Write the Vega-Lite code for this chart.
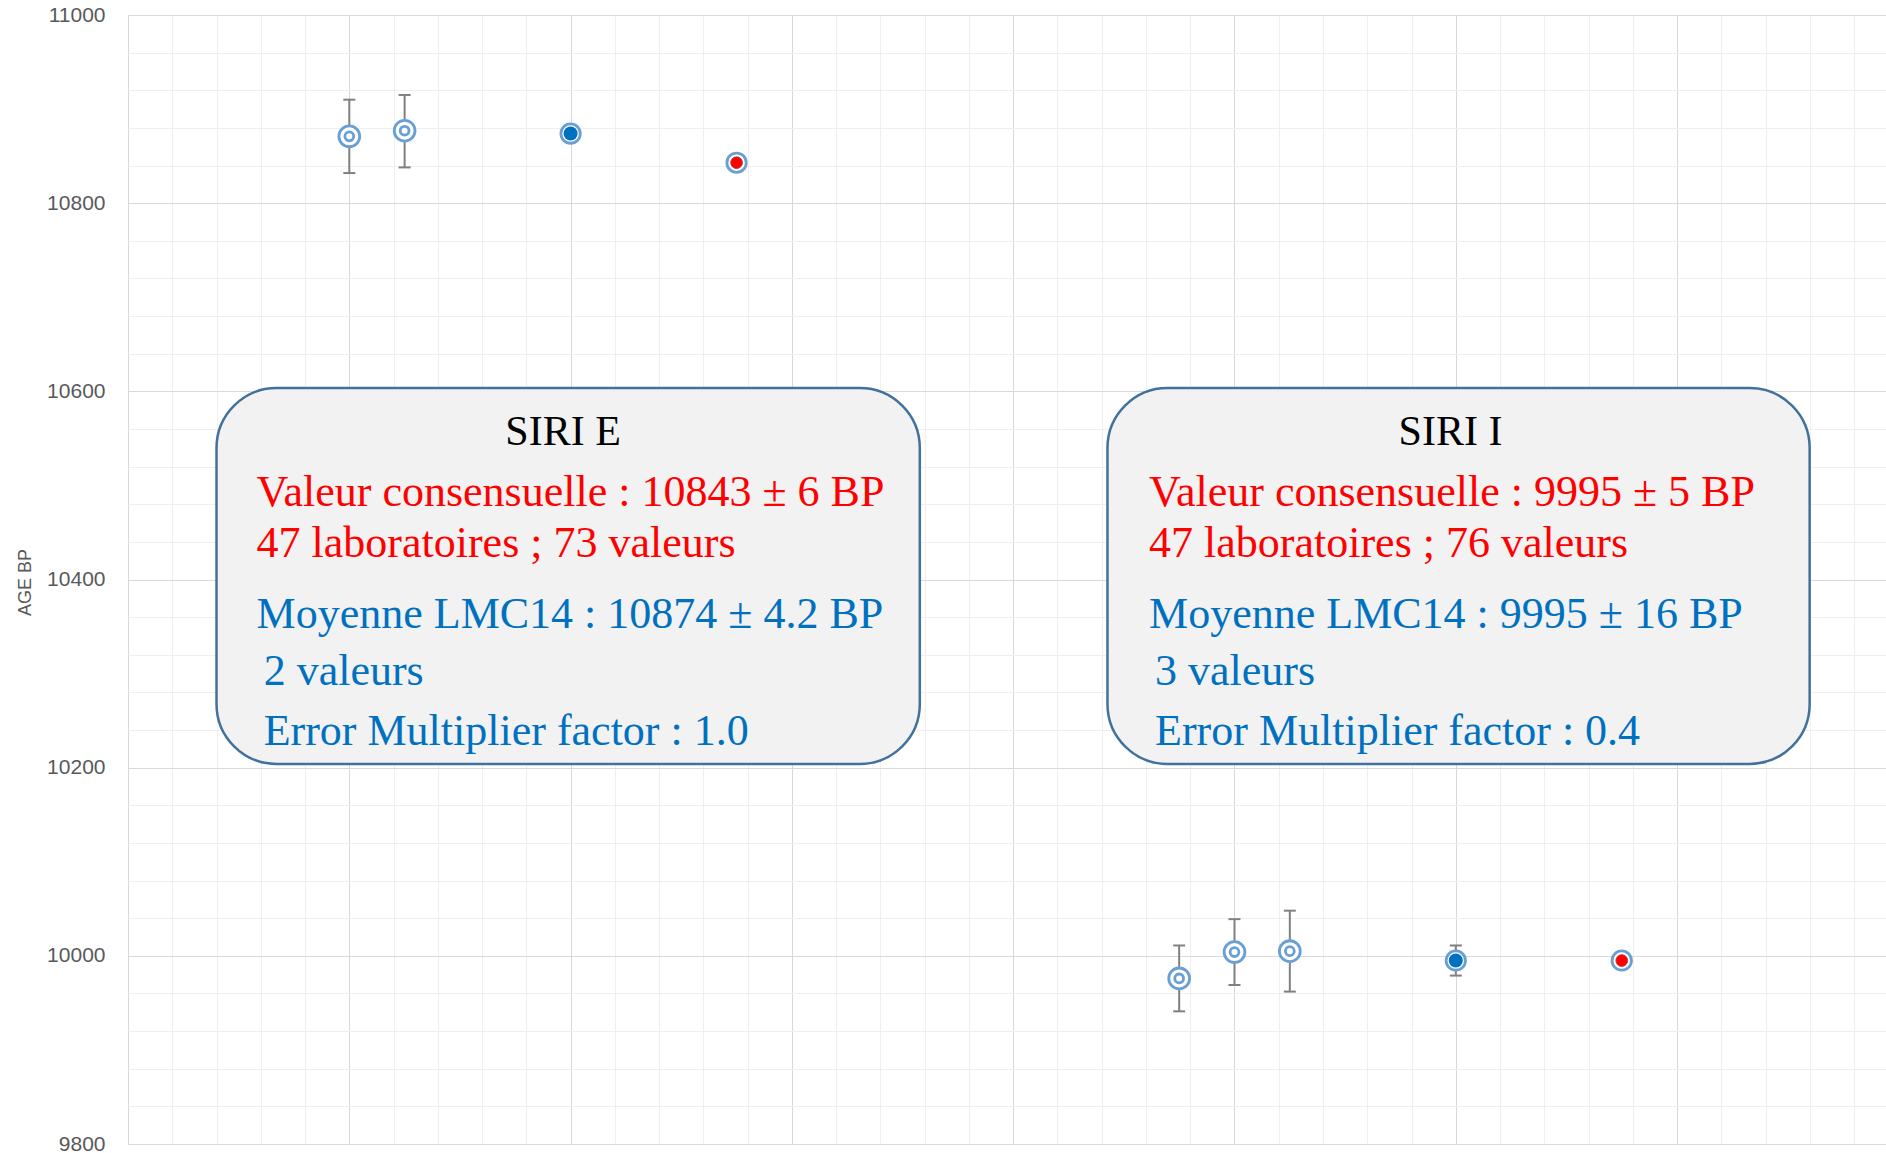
{
  "$schema": "https://vega.github.io/schema/vega-lite/v6.json",
  "width": 1758,
  "height": 1129,
  "autosize": {"type": "none"},
  "padding": {"left": 128, "top": 15, "right": 0, "bottom": 9},
  "background": "white",
  "config": {"view": {"stroke": null}},
  "datasets": {
    "pts": [
      {"grp": "SIRI E", "kind": "lab", "x": 1, "age": 10871, "lo": 10832, "hi": 10910},
      {"grp": "SIRI E", "kind": "lab", "x": 1.25, "age": 10877, "lo": 10838, "hi": 10915},
      {"grp": "SIRI E", "kind": "lmc", "x": 2, "age": 10874, "lo": 10869.8, "hi": 10878.2},
      {"grp": "SIRI E", "kind": "cons", "x": 2.75, "age": 10843, "lo": 10837, "hi": 10849},
      {"grp": "SIRI I", "kind": "lab", "x": 4.75, "age": 9976, "lo": 9941, "hi": 10011},
      {"grp": "SIRI I", "kind": "lab", "x": 5, "age": 10004, "lo": 9969, "hi": 10039},
      {"grp": "SIRI I", "kind": "lab", "x": 5.25, "age": 10005, "lo": 9962, "hi": 10048},
      {"grp": "SIRI I", "kind": "lmc", "x": 6, "age": 9995, "lo": 9979, "hi": 10011},
      {"grp": "SIRI I", "kind": "cons", "x": 6.75, "age": 9995, "lo": 9990, "hi": 10000}
    ],
    "boxes": [
      {"grp": "SIRI E", "x": 0.4, "x2": 3.578, "age": 10603.5, "y2": 10204},
      {"grp": "SIRI I", "x": 4.426, "x2": 7.599, "age": 10603.5, "y2": 10204}
    ],
    "texts": [
      {"grp": "SIRI E", "role": "title", "x": 1.966, "age": 10543, "txt": "SIRI E"},
      {"grp": "SIRI E", "role": "cons", "x": 0.581, "age": 10477.6, "txt": "Valeur consensuelle : 10843 ± 6 BP"},
      {"grp": "SIRI E", "role": "cons", "x": 0.581, "age": 10424.4, "txt": "47 laboratoires ; 73 valeurs"},
      {"grp": "SIRI E", "role": "lmc", "x": 0.581, "age": 10348.3, "txt": "Moyenne LMC14 : 10874 ± 4.2 BP"},
      {"grp": "SIRI E", "role": "lmc", "x": 0.613, "age": 10288, "txt": "2 valeurs"},
      {"grp": "SIRI E", "role": "lmc", "x": 0.613, "age": 10224, "txt": "Error Multiplier factor : 1.0"},
      {"grp": "SIRI I", "role": "title", "x": 5.976, "age": 10543, "txt": "SIRI I"},
      {"grp": "SIRI I", "role": "cons", "x": 4.614, "age": 10477.6, "txt": "Valeur consensuelle : 9995 ± 5 BP"},
      {"grp": "SIRI I", "role": "cons", "x": 4.614, "age": 10424.4, "txt": "47 laboratoires ; 76 valeurs"},
      {"grp": "SIRI I", "role": "lmc", "x": 4.614, "age": 10348.3, "txt": "Moyenne LMC14 : 9995 ± 16 BP"},
      {"grp": "SIRI I", "role": "lmc", "x": 4.641, "age": 10288, "txt": "3 valeurs"},
      {"grp": "SIRI I", "role": "lmc", "x": 4.641, "age": 10224, "txt": "Error Multiplier factor : 0.4"}
    ]
  },
  "encoding": {
    "x": {
      "field": "x", "type": "quantitative",
      "scale": {"domain": [0, 7.944], "nice": false, "zero": false},
      "axis": {
        "values": [0, 0.2, 0.4, 0.6, 0.8, 1, 1.2, 1.4, 1.6, 1.8, 2, 2.2, 2.4, 2.6, 2.8, 3, 3.2, 3.4, 3.6, 3.8, 4, 4.2, 4.4, 4.6, 4.8, 5, 5.2, 5.4, 5.6, 5.8, 6, 6.2, 6.4, 6.6, 6.8, 7, 7.2, 7.4, 7.6, 7.8],
        "labels": false, "ticks": false, "domain": false, "title": null,
        "grid": true, "gridWidth": 1,
        "gridColor": {"condition": {"test": "abs(datum.value - round(datum.value)) < 0.01", "value": "#d9d9d9"}, "value": "#efefef"}
      }
    },
    "y": {
      "field": "age", "type": "quantitative",
      "scale": {"domain": [9800, 11000], "nice": false, "zero": false},
      "axis": {
        "values": [9800, 9840, 9880, 9920, 9960, 10000, 10040, 10080, 10120, 10160, 10200, 10240, 10280, 10320, 10360, 10400, 10440, 10480, 10520, 10560, 10600, 10640, 10680, 10720, 10760, 10800, 10840, 10880, 10920, 10960, 11000],
        "format": "d",
        "labelExpr": "datum.value % 200 === 0 ? datum.label : ''",
        "labelOverlap": false,
        "labelFont": "Liberation Sans", "labelFontSize": 21, "labelColor": "#595959", "labelPadding": 23,
        "ticks": false, "domain": false,
        "grid": true, "gridWidth": 1,
        "gridColor": {"condition": {"test": "datum.value % 200 === 0", "value": "#d9d9d9"}, "value": "#efefef"},
        "title": "AGE BP", "titleFont": "Liberation Sans", "titleFontSize": 18, "titleFontWeight": "normal",
        "titleColor": "#595959", "titleAngle": -90, "titleAlign": "center", "titleBaseline": "alphabetic",
        "titleX": -98, "titleY": 567
      }
    }
  },
  "layer": [
    {
      "data": {"name": "boxes"},
      "mark": {"type": "rect", "cornerRadius": 60, "fill": "#f2f2f2", "stroke": "#41719c", "strokeWidth": 2.5},
      "encoding": {
        "x2": {"field": "x2"},
        "y2": {"field": "y2"}
      }
    },
    {
      "data": {"name": "texts"},
      "transform": [{"filter": "datum.role === 'title'"}],
      "mark": {"type": "text", "font": "Liberation Serif", "fontSize": 42, "align": "center", "baseline": "alphabetic", "color": "#000000"},
      "encoding": {
        "text": {"field": "txt"}
      }
    },
    {
      "data": {"name": "texts"},
      "transform": [{"filter": "datum.role !== 'title'"}],
      "mark": {"type": "text", "font": "Liberation Serif", "fontSize": 44, "align": "left", "baseline": "alphabetic"},
      "encoding": {
        "text": {"field": "txt"},
        "color": {"field": "role", "type": "nominal", "scale": {"domain": ["cons", "lmc"], "range": ["#ff0000", "#0070c0"]}, "legend": null}
      }
    },
    {
      "data": {"name": "pts"},
      "transform": [{"filter": "datum.kind !== 'cons'"}],
      "mark": {"type": "rule", "color": "#808080", "strokeWidth": 2},
      "encoding": {
        "y": {
          "field": "lo", "type": "quantitative",
          "scale": {"domain": [9800, 11000], "nice": false, "zero": false},
          "axis": {
            "values": [9800, 9840, 9880, 9920, 9960, 10000, 10040, 10080, 10120, 10160, 10200, 10240, 10280, 10320, 10360, 10400, 10440, 10480, 10520, 10560, 10600, 10640, 10680, 10720, 10760, 10800, 10840, 10880, 10920, 10960, 11000],
            "format": "d",
            "labelExpr": "datum.value % 200 === 0 ? datum.label : ''",
            "labelOverlap": false,
            "labelFont": "Liberation Sans", "labelFontSize": 21, "labelColor": "#595959", "labelPadding": 23,
            "ticks": false, "domain": false,
            "grid": true, "gridWidth": 1,
            "gridColor": {"condition": {"test": "datum.value % 200 === 0", "value": "#d9d9d9"}, "value": "#efefef"},
            "title": "AGE BP", "titleFont": "Liberation Sans", "titleFontSize": 18, "titleFontWeight": "normal",
            "titleColor": "#595959", "titleAngle": -90, "titleAlign": "center", "titleBaseline": "alphabetic",
            "titleX": -98, "titleY": 567
          }
        },
        "y2": {"field": "hi"}
      }
    },
    {
      "data": {"name": "pts"},
      "transform": [{"filter": "datum.kind !== 'cons'"}],
      "mark": {"type": "tick", "orient": "horizontal", "size": 12, "thickness": 2, "color": "#808080", "opacity": 1},
      "encoding": {
        "y": {
          "field": "lo", "type": "quantitative",
          "scale": {"domain": [9800, 11000], "nice": false, "zero": false},
          "axis": {
            "values": [9800, 9840, 9880, 9920, 9960, 10000, 10040, 10080, 10120, 10160, 10200, 10240, 10280, 10320, 10360, 10400, 10440, 10480, 10520, 10560, 10600, 10640, 10680, 10720, 10760, 10800, 10840, 10880, 10920, 10960, 11000],
            "format": "d",
            "labelExpr": "datum.value % 200 === 0 ? datum.label : ''",
            "labelOverlap": false,
            "labelFont": "Liberation Sans", "labelFontSize": 21, "labelColor": "#595959", "labelPadding": 23,
            "ticks": false, "domain": false,
            "grid": true, "gridWidth": 1,
            "gridColor": {"condition": {"test": "datum.value % 200 === 0", "value": "#d9d9d9"}, "value": "#efefef"},
            "title": "AGE BP", "titleFont": "Liberation Sans", "titleFontSize": 18, "titleFontWeight": "normal",
            "titleColor": "#595959", "titleAngle": -90, "titleAlign": "center", "titleBaseline": "alphabetic",
            "titleX": -98, "titleY": 567
          }
        }
      }
    },
    {
      "data": {"name": "pts"},
      "transform": [{"filter": "datum.kind !== 'cons'"}],
      "mark": {"type": "tick", "orient": "horizontal", "size": 12, "thickness": 2, "color": "#808080", "opacity": 1},
      "encoding": {
        "y": {
          "field": "hi", "type": "quantitative",
          "scale": {"domain": [9800, 11000], "nice": false, "zero": false},
          "axis": {
            "values": [9800, 9840, 9880, 9920, 9960, 10000, 10040, 10080, 10120, 10160, 10200, 10240, 10280, 10320, 10360, 10400, 10440, 10480, 10520, 10560, 10600, 10640, 10680, 10720, 10760, 10800, 10840, 10880, 10920, 10960, 11000],
            "format": "d",
            "labelExpr": "datum.value % 200 === 0 ? datum.label : ''",
            "labelOverlap": false,
            "labelFont": "Liberation Sans", "labelFontSize": 21, "labelColor": "#595959", "labelPadding": 23,
            "ticks": false, "domain": false,
            "grid": true, "gridWidth": 1,
            "gridColor": {"condition": {"test": "datum.value % 200 === 0", "value": "#d9d9d9"}, "value": "#efefef"},
            "title": "AGE BP", "titleFont": "Liberation Sans", "titleFontSize": 18, "titleFontWeight": "normal",
            "titleColor": "#595959", "titleAngle": -90, "titleAlign": "center", "titleBaseline": "alphabetic",
            "titleX": -98, "titleY": 567
          }
        }
      }
    },
    {
      "data": {"name": "pts"},
      "transform": [{"filter": "datum.kind === 'lab'"}],
      "mark": {"type": "point", "shape": "circle", "size": 433, "filled": false, "fill": "white", "fillOpacity": 1, "stroke": "#6a9fd4", "strokeWidth": 2.8, "opacity": 1}
    },
    {
      "data": {"name": "pts"},
      "transform": [{"filter": "datum.kind === 'lab'"}],
      "mark": {"type": "point", "shape": "circle", "size": 78, "filled": false, "stroke": "#6a9fd4", "strokeWidth": 2.8, "opacity": 1}
    },
    {
      "data": {"name": "pts"},
      "transform": [{"filter": "datum.kind !== 'lab'"}],
      "mark": {"type": "point", "shape": "circle", "size": 375, "filled": false, "fill": "white", "fillOpacity": 1, "stroke": "#6a9fd4", "strokeWidth": 2.8, "opacity": 1}
    },
    {
      "data": {"name": "pts"},
      "transform": [{"filter": "datum.kind === 'lmc'"}],
      "mark": {"type": "point", "shape": "circle", "size": 196, "filled": true, "fill": "#0070c0", "opacity": 1, "strokeWidth": 0}
    },
    {
      "data": {"name": "pts"},
      "transform": [{"filter": "datum.kind === 'cons'"}],
      "mark": {"type": "point", "shape": "circle", "size": 137, "filled": true, "fill": "#ff0000", "stroke": "#c0392b", "strokeWidth": 1, "opacity": 1}
    }
  ]
}
